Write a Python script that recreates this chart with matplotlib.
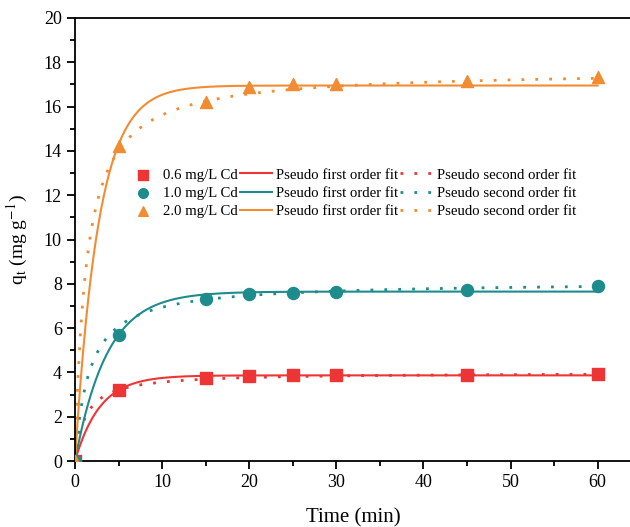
import numpy as np
import matplotlib
matplotlib.use('Agg')
import matplotlib.pyplot as plt
from matplotlib.ticker import MultipleLocator

plt.rcParams['font.family'] = ['Liberation Serif', 'DejaVu Serif']
plt.rcParams['mathtext.fontset'] = 'stix'

# Measured adsorption data
time = [0, 5, 15, 20, 25, 30, 45, 60]
q_06 = [0, 3.2, 3.75, 3.85, 3.88, 3.88, 3.9, 3.95]
q_10 = [0, 5.7, 7.3, 7.55, 7.6, 7.62, 7.72, 7.9]
q_20 = [0, 14.2, 16.2, 16.9, 17.0, 17.0, 17.15, 17.35]

labels = ['0.6 mg/L Cd', '1.0 mg/L Cd', '2.0 mg/L Cd']
colors = ['#EE3535', '#1E8C8C', '#F28C33']
markers = ['s', 'o', '^']

# fitted parameters (qe, k)
pfo_params = [(3.87, 0.35), (7.65, 0.273), (16.95, 0.37)]
pso_params = [(4.0, 0.205), (8.1, 0.074), (17.65, 0.0436)]

t_fit = np.linspace(0, 60, 400)

fig = plt.figure(figsize=(6.3, 5.27), dpi=100)
ax = fig.add_axes([0.119, 0.125, 0.885, 0.841])

series = [q_06, q_10, q_20]
h_pts, h_pfo, h_pso = [], [], []
for q, lab, c, m, (qe1, k1), (qe2, k2) in zip(series, labels, colors, markers, pfo_params, pso_params):
    pfo = qe1 * (1 - np.exp(-k1 * t_fit))
    pso = qe2 ** 2 * k2 * t_fit / (1 + qe2 * k2 * t_fit)
    l1, = ax.plot(t_fit, pfo, color=c, lw=1.5, zorder=2)
    l2, = ax.plot(t_fit, pso, color=c, lw=2, linestyle=(0, (1, 4)), zorder=2)
    p = ax.scatter(time, q, marker=m, s=75, color=c, zorder=3)
    h_pts.append(p)
    h_pfo.append(l1)
    h_pso.append(l2)

handles = h_pts + h_pfo + h_pso
leg_labels = labels + ['Pseudo first order fit'] * 3 + ['Pseudo second order fit'] * 3
ax.legend(handles, leg_labels, ncol=3, loc='upper left', bbox_to_anchor=(0.082, 0.674),
          frameon=False, fontsize=10.6, handlelength=2.2, handletextpad=0.3,
          columnspacing=0.1, labelspacing=0.34, borderaxespad=0, markerscale=0.8)

ax.set_xlim(0, 64)
ax.set_ylim(0, 20)
ax.xaxis.set_major_locator(MultipleLocator(10))
ax.xaxis.set_minor_locator(MultipleLocator(5))
ax.yaxis.set_major_locator(MultipleLocator(2))
ax.yaxis.set_minor_locator(MultipleLocator(1))
ax.tick_params(which='major', direction='out', length=6, width=1.3, labelsize=13)
ax.tick_params(which='minor', direction='out', length=3.5, width=1.3)
for s in ['left', 'bottom', 'top']:
    ax.spines[s].set_linewidth(1.3)
ax.spines['right'].set_visible(False)

ax.set_xlabel('Time (min)', fontsize=15, labelpad=12)
ax.set_ylabel(r'q$_\mathrm{t}$ (mg g$^{-1}$)', fontsize=14, labelpad=10)

plt.savefig('out.png', dpi=100)
